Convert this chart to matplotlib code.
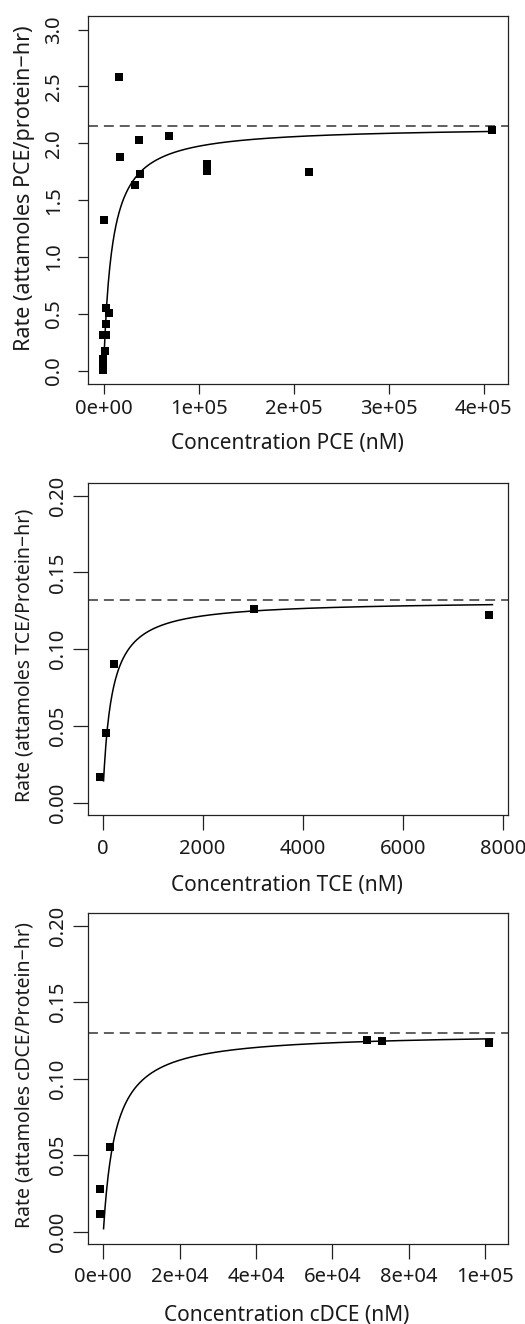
import matplotlib
matplotlib.use('Agg')
import matplotlib.pyplot as plt
import numpy as np

plt.rcParams['font.family'] = ['Noto Sans', 'DejaVu Sans']

# PCE panel
pce_conc = [15800, 17600, 36800, 68400, 37900, 32600, 108600, 108600, 216300, 408100,
            0, 2100, 6000, 2800, -700, 2400, 1400, -700, -700, -700, -700]
pce_rate = [2.58, 1.877, 2.03, 2.065, 1.73, 1.63, 1.815, 1.756, 1.748, 2.118,
            1.321, 0.55, 0.506, 0.41, 0.315, 0.315, 0.17, 0.10, 0.073, 0.044, 0.006]
pce_vmax, pce_km = 2.15, 8900
pce_range = [0, 409000]
pce_xticks = [0, 100000, 200000, 300000, 400000]
pce_xlabels = ["0e+00", "1e+05", "2e+05", "3e+05", "4e+05"]
pce_yticks = [0.0, 0.5, 1.0, 1.5, 2.0, 2.5, 3.0]
pce_ylabels = ["0.0", "0.5", "1.0", "1.5", "2.0", "2.5", "3.0"]

# TCE panel
tce_conc = [-54, 60, 226, 3020, 7720]
tce_rate = [0.0167, 0.0451, 0.0905, 0.1262, 0.1221]
tce_vmax, tce_km = 0.1317, 165
tce_range = [20, 7790]
tce_xticks = [0, 2000, 4000, 6000, 8000]
tce_xlabels = ["0", "2000", "4000", "6000", "8000"]

# cDCE panel
dce_conc = [-870, -870, 1760, 69100, 73000, 101200]
dce_rate = [0.0277, 0.0114, 0.0556, 0.1251, 0.1244, 0.1231]
dce_vmax, dce_km = 0.130, 3200
dce_range = [50, 102000]
dce_xticks = [0, 20000, 40000, 60000, 80000, 100000]
dce_xlabels = ["0e+00", "2e+04", "4e+04", "6e+04", "8e+04", "1e+05"]

small_yticks = [0.00, 0.05, 0.10, 0.15, 0.20]
small_ylabels = ["0.00", "0.05", "0.10", "0.15", "0.20"]

W, H = 525, 1324
INK = '#1a1a1a'


def mm(s, vmax, km):
    return vmax * s / (km + s)


def panel(fig, top, bottom, conc, rate, vmax, km, srange, xticks, xlabels,
          yticks, ylabels, ylim, xlabel, ylabel, ticklen, xpad, ypad, xlab_off,
          ylab_y, ylab_fs, tick_fs):
    h = bottom - top
    ax = fig.add_axes([88 / W, 1 - bottom / H, 420 / W, h / H])

    s = np.linspace(srange[0], srange[1], 500)
    ax.plot(s, mm(s, vmax, km), color='black', lw=1.1)
    ax.axhline(vmax, color='#333333', lw=1.1, linestyle=(0, (6.5, 3.9)))
    ax.plot(conc, rate, 's', color='black', markersize=5.6, markeredgewidth=0)

    span = srange[1] - srange[0]
    ax.set_xlim(srange[0] - 0.04 * span, srange[1] + 0.04 * span)
    yspan = ylim[1] - ylim[0]
    ax.set_ylim(ylim[0] - 0.04 * yspan, ylim[1] + 0.04 * yspan)

    ax.set_xticks(xticks, xlabels)
    ax.set_yticks(yticks, ylabels)
    ax.tick_params(direction='out', length=ticklen, width=0.9, labelsize=tick_fs,
                   color='#222222', labelcolor=INK)
    ax.tick_params(axis='x', pad=xpad)
    ax.tick_params(axis='y', pad=ypad, labelrotation=90)
    for lab in ax.get_yticklabels():
        lab.set_va('center')

    for sp in ax.spines.values():
        sp.set_linewidth(0.9)
        sp.set_color('#222222')

    ax.set_xlabel(xlabel, fontsize=15, color=INK)
    ax.set_ylabel(ylabel, fontsize=ylab_fs, color=INK)
    ax.xaxis.set_label_coords(0.474, -xlab_off / h)
    ax.xaxis.label.set_va('center')
    ax.yaxis.set_label_coords(-63 / 420, ylab_y)
    ax.yaxis.label.set_va('center')
    return ax


fig = plt.figure(figsize=(W / 100, H / 100), dpi=100)

panel(fig, 16, 384.3, pce_conc, pce_rate, pce_vmax, pce_km, pce_range,
      pce_xticks, pce_xlabels, pce_yticks, pce_ylabels, (0, 3),
      "Concentration PCE (nM)", "Rate (attamoles PCE/protein\u2212hr)",
      7.2, 3.7, 10.0, 59, 0.533, 15.5, 14.5)

panel(fig, 483.3, 815, tce_conc, tce_rate, tce_vmax, tce_km, tce_range,
      tce_xticks, tce_xlabels, small_yticks, small_ylabels, (0, 0.2),
      "Concentration TCE (nM)", "Rate (attamoles TCE/Protein\u2212hr)",
      10.8, 6.2, 3.4, 70, 0.482, 14, 14.5)

panel(fig, 913.3, 1244, dce_conc, dce_rate, dce_vmax, dce_km, dce_range,
      dce_xticks, dce_xlabels, small_yticks, small_ylabels, (0, 0.2),
      "Concentration cDCE (nM)", "Rate (attamoles cDCE/Protein\u2212hr)",
      10.8, 5.6, 3.4, 71, 0.511, 14, 14.5)

fig.savefig("out.png", dpi=100)
